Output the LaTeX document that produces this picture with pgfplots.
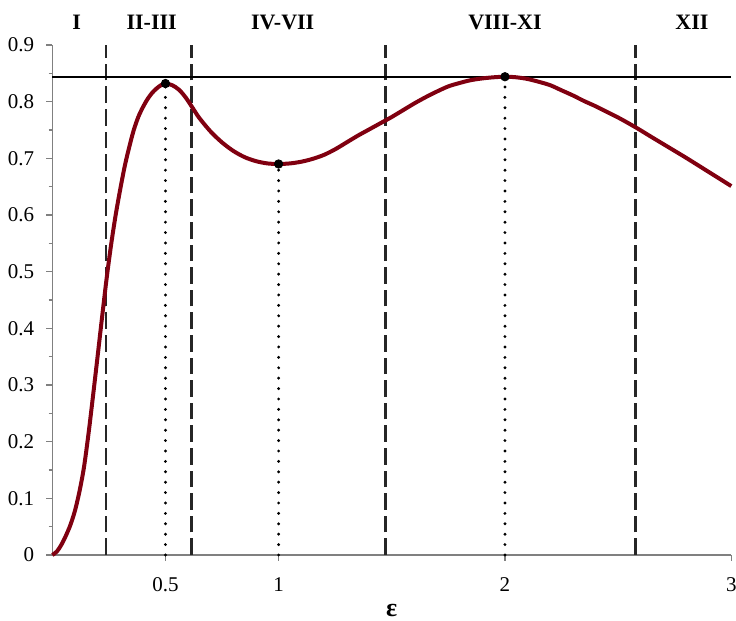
\documentclass[border=0pt]{standalone}
\usepackage{fontspec}
\setmainfont{Liberation Serif}
\usepackage{pgfplots}
\pgfplotsset{compat=1.18}
\definecolor{curvecol}{RGB}{128,0,16}
\definecolor{axgray}{RGB}{128,128,128}

\pgfplotstableread{
x y
0.00 0.000
0.02 0.006
0.04 0.018
0.06 0.034
0.08 0.053
0.10 0.078
0.12 0.112
0.14 0.155
0.16 0.214
0.18 0.281
0.20 0.350
0.22 0.420
0.24 0.488
0.26 0.548
0.28 0.600
0.30 0.645
0.32 0.686
0.34 0.720
0.36 0.750
0.38 0.773
0.40 0.790
0.42 0.804
0.44 0.815
0.46 0.823
0.48 0.829
0.50 0.832
0.53 0.829
0.56 0.821
0.59 0.807
0.62 0.789
0.65 0.771
0.70 0.747
0.75 0.728
0.80 0.713
0.85 0.702
0.90 0.695
0.95 0.691
1.00 0.690
1.05 0.691
1.10 0.694
1.15 0.699
1.20 0.706
1.25 0.716
1.30 0.728
1.35 0.740
1.40 0.751
1.45 0.762
1.50 0.773
1.55 0.785
1.60 0.797
1.65 0.808
1.70 0.818
1.75 0.827
1.80 0.833
1.85 0.838
1.90 0.841
1.95 0.843
2.00 0.844
2.05 0.843
2.10 0.840
2.15 0.835
2.20 0.829
2.25 0.820
2.30 0.811
2.35 0.801
2.40 0.792
2.45 0.782
2.50 0.772
2.576 0.755
2.65 0.737
2.70 0.725
2.80 0.701
2.90 0.676
3.00 0.651
}\curvedata

\begin{document}
\begin{tikzpicture}
\begin{axis}[
  scale only axis, width=339.5pt, height=255pt,
  xmin=0, xmax=3, ymin=0, ymax=0.9,
  axis lines=left,
  axis line style={axgray, line width=0.6pt, -},
  xtick={0.5,1,2,3},
  ytick={0,0.1,0.2,0.3,0.4,0.5,0.6,0.7,0.8,0.9},
  minor ytick={0.05,0.15,0.25,0.35,0.45,0.55,0.65,0.75,0.85},
  tick align=outside,
  major tick length=3pt, minor tick length=1.8pt,
  every tick/.style={axgray, line width=0.6pt},
  /pgf/number format/assume math mode=true,
  /pgf/number format/fixed,
  /pgf/number format/precision=2,
  tick label style={font=\fontsize{10.5}{12}\selectfont},
  yticklabel style={xshift=-2.5pt},
  xticklabel style={yshift=-4.8pt},
  clip=false,
]
\coordinate (bl) at (rel axis cs:0,0);
\coordinate (tr) at (rel axis cs:1,1);
% dashed region boundaries
\addplot[black!85, line width=1.3pt, dash pattern=on 8.3pt off 3pt] coordinates {(0.237,0) (0.237,0.9)};
\addplot[black!85, line width=1.3pt, dash pattern=on 8.3pt off 3pt] coordinates {(0.616,0) (0.616,0.9)};
\addplot[black!85, line width=1.3pt, dash pattern=on 8.3pt off 3pt] coordinates {(1.471,0) (1.471,0.9)};
\addplot[black!85, line width=1.3pt, dash pattern=on 8.3pt off 3pt] coordinates {(2.576,0) (2.576,0.9)};
% dotted droplines
\addplot[black, line width=1.6pt, line cap=round, dash pattern=on 0pt off 5.2pt] coordinates {(0.5,0) (0.5,0.832)};
\addplot[black, line width=1.6pt, line cap=round, dash pattern=on 0pt off 5.2pt] coordinates {(1,0) (1,0.690)};
\addplot[black, line width=1.6pt, line cap=round, dash pattern=on 0pt off 5.2pt] coordinates {(2,0) (2,0.844)};
% horizontal line
\addplot[black, line width=0.9pt] coordinates {(0,0.844) (3,0.844)};
% curve
\addplot[curvecol, line width=2pt, smooth] table[x=x,y=y] {\curvedata};
% extremum points
\addplot[only marks, mark=*, mark size=2.1pt, black] coordinates {(0.5,0.832) (1,0.690) (2,0.844)};
% region labels
\node[anchor=base, yshift=7.9pt, font=\fontsize{11}{13}\selectfont\bfseries] at (axis cs:0.108,0.9) {I};
\node[anchor=base, yshift=7.9pt, font=\fontsize{11}{13}\selectfont\bfseries] at (axis cs:0.439,0.9) {II-III};
\node[anchor=base, yshift=7.9pt, font=\fontsize{11}{13}\selectfont\bfseries] at (axis cs:1.018,0.9) {IV-VII};
\node[anchor=base, yshift=7.9pt, font=\fontsize{11}{13}\selectfont\bfseries] at (axis cs:2.0,0.9) {VIII-XI};
\node[anchor=base, yshift=7.9pt, font=\fontsize{11}{13}\selectfont\bfseries] at (axis cs:2.826,0.9) {XII};
% x label
\node[anchor=center, yshift=-28pt, font=\fontsize{13}{15}\selectfont\bfseries] at (axis cs:1.5,0) {ε};
\end{axis}
\pgfresetboundingbox
\path ([shift={(-26.15pt,-33pt)}]bl) rectangle ([shift={(2.35pt,22.5pt)}]tr);
\end{tikzpicture}
\end{document}
